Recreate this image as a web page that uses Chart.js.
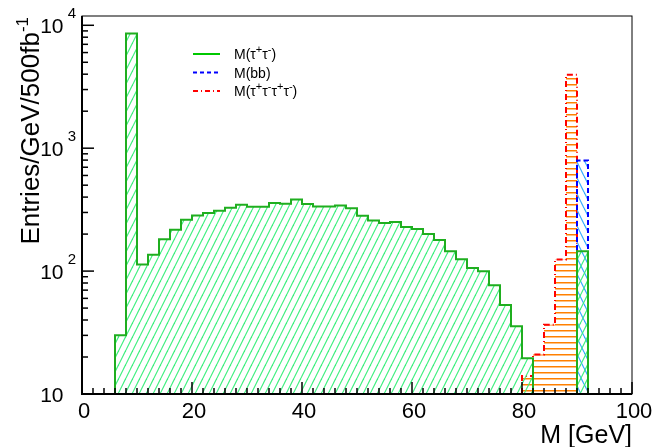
<!DOCTYPE html>
<html><head><meta charset="utf-8">
<script src="https://cdn.jsdelivr.net/npm/chart.js@4"></script>
<style>html,body{margin:0;padding:0;background:#fff}</style>
</head><body>
<canvas id="c" width="654" height="447"></canvas>
<script>
// histogram bins are 2 GeV wide
const binWidth = 2;
const tautauStart = 6;
const tautauValues = [30, 8570, 113, 136, 182, 217, 262, 284, 297, 310, 327, 346, 334, 334,
  358, 353, 383, 351, 336, 336, 342, 324, 282, 258, 246, 251, 228, 220, 200, 179,
  145, 125, 106, 99.6, 76.6, 53, 35.5, 19.5, 0, 0, 0, 0, 145];
const bbStart = 90;
const bbValues = [794];
const fourTauStart = 80;
const fourTauValues = [14, 21, 36.6, 124, 3950];

const xTicks = [0, 20, 40, 60, 80, 100];
const yTicks = [10, 100, 1000, 10000];
const yTickExp = ["", "2", "3", "4"];
const yMin = 10, yMax = 11900;

const FONT = "'Liberation Sans', Arial, sans-serif";

// one point per bin low edge, drop to the axis at both ends (stepped "before" = horizontal first)
function histPoints(start, vals){
  const pts = [{x: start, y: yMin}];
  vals.forEach((v, i) => pts.push({x: start + i*binWidth, y: v > 0 ? v : yMin}));
  pts.push({x: start + vals.length*binWidth, y: yMin});
  return pts;
}

function makePattern(w, h, draw){
  const c = document.createElement("canvas");
  c.width = w; c.height = h;
  const g = c.getContext("2d");
  draw(g);
  return g.createPattern(c, "repeat");
}

const greenHatch = makePattern(7, 14, g => {
  g.strokeStyle = "#3cef7d"; g.lineWidth = 1.2;
  [[-7,14,0,0],[0,14,7,0],[7,14,14,0]].forEach(l => { g.beginPath(); g.moveTo(l[0],l[1]); g.lineTo(l[2],l[3]); g.stroke(); });
});
const blueHatch = makePattern(8, 16, g => {
  g.strokeStyle = "#33aaff"; g.lineWidth = 1.2;
  [[-8,0,0,16],[0,0,8,16],[8,0,16,16]].forEach(l => { g.beginPath(); g.moveTo(l[0],l[1]); g.lineTo(l[2],l[3]); g.stroke(); });
});
const orangeHatch = makePattern(8, 6, g => {
  g.fillStyle = "#ff8000"; g.fillRect(0, 0, 8, 1);
  g.fillStyle = "#ffc080"; g.fillRect(0, 1, 8, 1);
});

// text with superscripts: segs = [{t, sup}]
function richWidth(ctx, segs, size, supSize){
  let w = 0;
  segs.forEach(s => { ctx.font = (s.sup ? supSize : size) + "px " + FONT; w += ctx.measureText(s.t).width; });
  return w;
}
function drawRich(ctx, segs, x, y, size, supSize, rise){
  segs.forEach(s => {
    ctx.font = (s.sup ? supSize : size) + "px " + FONT;
    ctx.fillText(s.t, x, s.sup ? y - rise : y);
    x += ctx.measureText(s.t).width;
  });
}

const legendItems = [
  {segs: [{t:"M(τ"},{t:"+",sup:1},{t:"τ"},{t:"-",sup:1},{t:")"}], color: "#00c800", dash: []},
  {segs: [{t:"M(bb)"}], color: "#0000ff", dash: [4,3]},
  {segs: [{t:"M(τ"},{t:"+",sup:1},{t:"τ"},{t:"-",sup:1},{t:"τ"},{t:"+",sup:1},{t:"τ"},{t:"-",sup:1},{t:")"}], color: "#ff0000", dash: [5,3,1,3]}
];

const rootAxes = {
  id: "rootAxes",
  afterDraw(chart){
    const ctx = chart.ctx, a = chart.chartArea;
    const xs = chart.scales.x, ys = chart.scales.y;
    ctx.save();
    ctx.fillStyle = "#000"; ctx.strokeStyle = "#000";
    // frame
    ctx.lineWidth = 1;
    ctx.strokeRect(a.left, a.top, a.right - a.left, a.bottom - a.top);
    ctx.lineWidth = 2;
    ctx.beginPath();
    ctx.moveTo(a.left, a.top); ctx.lineTo(a.left, a.bottom); ctx.lineTo(a.right, a.bottom);
    ctx.stroke();
    // x ticks
    ctx.lineWidth = 1.5;
    for(let v = 0; v <= 100; v += binWidth){
      const px = xs.getPixelForValue(v);
      const len = xTicks.includes(v) ? 12 : 6;
      ctx.beginPath(); ctx.moveTo(px, a.bottom); ctx.lineTo(px, a.bottom - len); ctx.stroke();
    }
    // y ticks
    for(let d = 10; d <= yMax; d *= 10){
      for(let m = 1; m <= 9; m++){
        const v = d*m;
        if(v > yMax) break;
        const py = ys.getPixelForValue(v);
        const len = m === 1 ? 12 : 6;
        ctx.beginPath(); ctx.moveTo(a.left, py); ctx.lineTo(a.left + len, py); ctx.stroke();
      }
    }
    // x labels
    ctx.textAlign = "center"; ctx.textBaseline = "alphabetic";
    ctx.font = "22px " + FONT;
    xTicks.forEach(v => ctx.fillText(String(v), xs.getPixelForValue(v) + 2, a.bottom + 24));
    // y labels
    ctx.textAlign = "left";
    yTicks.forEach((v, i) => {
      const py = ys.getPixelForValue(v);
      const segs = [{t:"10"}];
      if(yTickExp[i]) segs.push({t:" " + yTickExp[i], sup:1});
      const w = richWidth(ctx, [{t:"10"}], 21, 15) + richWidth(ctx, [{t:" 4", sup:1}], 21, 15);
      drawRich(ctx, segs, a.left - 6 - w, py + 8, 21, 15, 15);
    });
    // axis titles
    ctx.textAlign = "right";
    ctx.font = "25px " + FONT;
    ctx.fillText("M [GeV]", a.right, 443);
    ctx.save();
    ctx.translate(39, 17);
    ctx.rotate(-Math.PI/2);
    ctx.textAlign = "left";
    const ySegs = [{t:"Entries/GeV/500fb"},{t:"-1",sup:1}];
    const tw = richWidth(ctx, ySegs, 26, 17);
    drawRich(ctx, ySegs, -tw, 0, 26, 17, 11);
    ctx.restore();
    // legend
    legendItems.forEach((it, i) => {
      const ly = 54 + i*18.5;
      ctx.strokeStyle = it.color; ctx.lineWidth = 2; ctx.setLineDash(it.dash);
      ctx.beginPath(); ctx.moveTo(193, ly); ctx.lineTo(220, ly); ctx.stroke();
      ctx.setLineDash([]);
      ctx.fillStyle = "#000"; ctx.textAlign = "left";
      drawRich(ctx, it.segs, 234, ly + 5, 14, 11, 6);
    });
    ctx.restore();
  }
};

new Chart(document.getElementById("c"), {
  type: "line",
  data: {
    datasets: [
      {label: "M(τ+τ-)", data: histPoints(tautauStart, tautauValues), stepped: "before",
       borderColor: "#1fae1f", borderWidth: 2, backgroundColor: greenHatch, fill: "start", pointRadius: 0, order: 1},
      {label: "M(bb)", data: histPoints(bbStart, bbValues), stepped: "before",
       borderColor: "#0000ff", borderWidth: 2, borderDash: [5,3], backgroundColor: blueHatch, fill: "start", pointRadius: 0, order: 2},
      {label: "M(τ+τ-τ+τ-)", data: histPoints(fourTauStart, fourTauValues), stepped: "before",
       borderColor: "#ff0000", borderWidth: 2, borderDash: [6,3,1,3], backgroundColor: orangeHatch, fill: "start", pointRadius: 0, order: 3}
    ]
  },
  options: {
    responsive: false,
    animation: false,
    devicePixelRatio: 1,
    layout: {padding: {left: 82, top: 16, right: 22, bottom: 53}},
    scales: {
      x: {type: "linear", min: 0, max: 100, display: false},
      y: {type: "logarithmic", min: yMin, max: yMax, display: false}
    },
    plugins: {legend: {display: false}, tooltip: {enabled: false}}
  },
  plugins: [rootAxes]
});
</script>
</body></html>
